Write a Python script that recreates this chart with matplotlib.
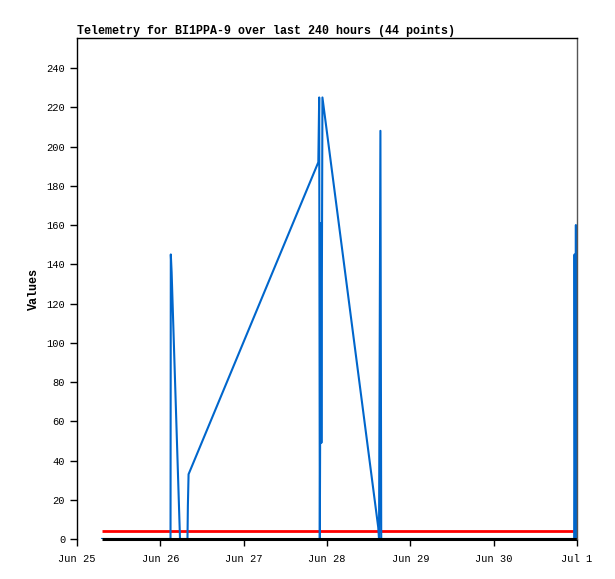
import pandas as pd
import matplotlib
matplotlib.use("Agg")
import matplotlib.pyplot as plt
import matplotlib.dates as mdates

# Telemetry samples
times = pd.to_datetime([
    "2023-06-25 07:12", "2023-06-26 02:56", "2023-06-26 03:01", "2023-06-26 03:15",
    "2023-06-26 05:40", "2023-06-26 07:49", "2023-06-26 07:56", "2023-06-26 08:08",
    "2023-06-27 21:30", "2023-06-27 21:45", "2023-06-27 21:56", "2023-06-27 22:13",
    "2023-06-27 22:23", "2023-06-27 22:41", "2023-06-28 14:45", "2023-06-28 14:59",
    "2023-06-28 15:23", "2023-06-28 15:37", "2023-06-30 23:11", "2023-06-30 23:18",
    "2023-06-30 23:29", "2023-06-30 23:41", "2023-06-30 23:52",
])
values = [0, 0, 145, 136, 0, 0, 17, 33, 192, 225, 0, 161, 49, 225, 6, 0,
          208, 0, 0, 145, 0, 160, 0]

# Reference lines
ref_times = pd.to_datetime(["2023-06-25 07:12", "2023-07-01 00:00"])
threshold = [4, 4]
baseline = [0, 0]

day_ticks = pd.date_range("2023-06-25", "2023-07-01", freq="D")

plt.rcParams['font.family'] = ['Liberation Mono', 'DejaVu Sans Mono']

fig = plt.figure(figsize=(6.15, 5.79), dpi=100)
ax = fig.add_axes([77 / 615, 1 - 539 / 579, 500 / 615, 501 / 579])

ax.plot(ref_times, threshold, color="#ff0000", linewidth=2, solid_capstyle="butt")
ax.plot(times, values, color="#0066cc", linewidth=1.5)
ax.plot(ref_times, baseline, color="black", linewidth=2.2, clip_on=False,
        solid_capstyle="butt")

ax.set_xlim(day_ticks[0], day_ticks[-1])
ax.set_ylim(0, 255.3)
ax.set_yticks(range(0, 241, 20))
ax.set_xticks(day_ticks)
ax.xaxis.set_major_formatter(mdates.DateFormatter("%b %-d"))

ax.spines["bottom"].set_visible(False)
ax.spines["right"].set_color("#555555")
for s in ["left", "top", "right"]:
    ax.spines[s].set_linewidth(1)

ax.tick_params(axis="both", direction="out", length=5, width=1, labelsize=7.5)
ax.tick_params(axis="x", pad=6)

ax.set_ylabel("Values", fontsize=8.5, fontweight="bold", labelpad=4.5)
ax.set_title("Telemetry for BI1PPA-9 over last 240 hours (44 points)",
             fontsize=8.4, fontweight="bold", loc="left", pad=3)

fig.savefig("out.png", dpi=100)
